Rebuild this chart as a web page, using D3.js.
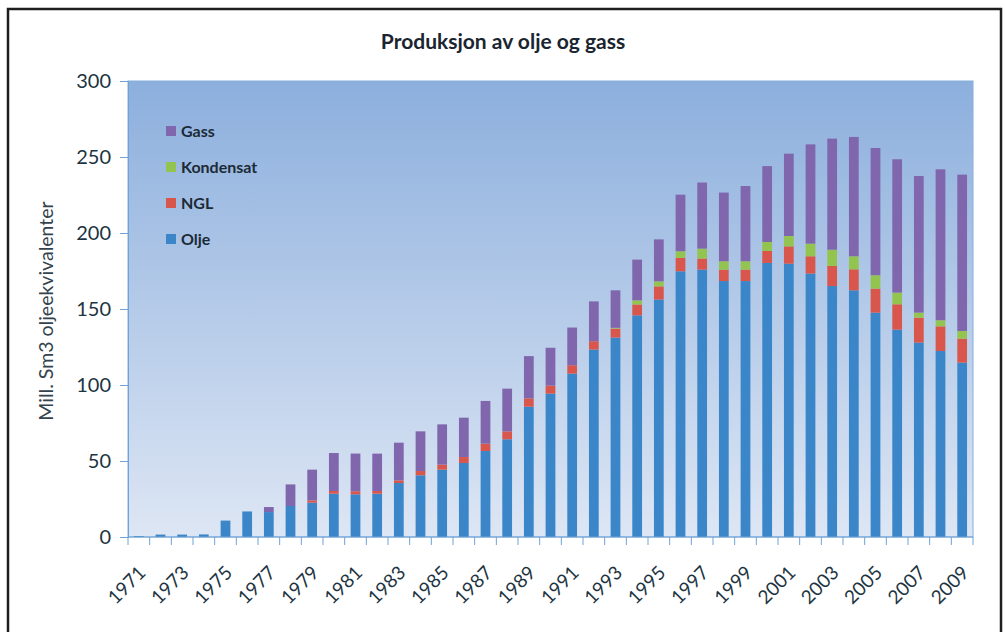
<!DOCTYPE html>
<html>
<head>
<meta charset="utf-8">
<script src="https://cdn.jsdelivr.net/npm/d3@7"></script>
<style>
	body { margin: 0; background: #fff; }
	text { font-family: Lato, "Open Sans", sans-serif; }
</style>
</head>
<body>
<script>
var years = d3.range(1971, 2010);
var olje = [0.6, 1.6, 1.6, 1.7, 10.8, 16.8, 16.4, 20.4, 22.6, 28.5,
	28.1, 28.5, 35.5, 40.6, 44.3, 48.7, 56.6, 64.3, 85.7, 94.3,
	107.5, 123.3, 131.2, 145.8, 156.2, 174.8, 175.9, 168.4, 168.4, 180.3,
	179.8, 173.3, 165.1, 162.3, 147.6, 136.4, 127.9, 122.4, 114.7];
var ngl = [0, 0, 0, 0, 0, 0, 0, 0, 1.5, 1.75,
	2, 1.75, 1.75, 2.8, 3.3, 3.9, 4.8, 5.2, 5.5, 5.3,
	5.5, 5.5, 5.9, 7.2, 8.7, 8.8, 7.3, 7.5, 7.5, 7.9,
	11.4, 11.4, 13.2, 13.8, 15.8, 16.7, 16.4, 16.2, 15.8];
var kondensat = [0, 0, 0, 0, 0, 0, 0, 0, 0, 0,
	0, 0, 0, 0, 0, 0, 0, 0, 0, 0,
	0, 0, 0.5, 2.7, 3.3, 4.4, 6.5, 5.5, 5.5, 5.9,
	6.8, 8.3, 10.7, 8.6, 8.8, 7.7, 3.3, 4.0, 5.0];
var gass = [0, 0, 0, 0, 0, 0, 3.3, 14.2, 20.2, 25,
	24.8, 24.6, 24.8, 26.1, 26.5, 25.9, 28.1, 28.1, 27.8, 24.9,
	24.8, 26.2, 24.7, 26.8, 27.6, 37.2, 43.5, 45.2, 49.5, 49.9,
	54.2, 65.3, 73.1, 78.5, 83.7, 87.7, 89.9, 99.3, 102.9];
var yTicks = [0, 50, 100, 150, 200, 250, 300];

var series = [
	{key: 'Olje', values: olje, color: '#3a86c8'},
	{key: 'NGL', values: ngl, color: '#d9564c'},
	{key: 'Kondensat', values: kondensat, color: '#94c450'},
	{key: 'Gass', values: gass, color: '#7f66ad'}
];

var width = 1005, height = 632;
var plot = {left: 128, right: 973, top: 81, bottom: 537};

var rows = years.map(function(y, i) {
	var r = {year: y};
	series.forEach(function(s) { r[s.key] = s.values[i]; });
	return r;
});
var stacked = d3.stack().keys(series.map(function(s) { return s.key; }))(rows);

var x = d3.scaleBand()
	.domain(years)
	.range([plot.left, plot.right])
	.paddingInner(0.55)
	.paddingOuter(0.275);
var y = d3.scaleLinear()
	.domain([0, 300])
	.range([plot.bottom, plot.top]);

var svg = d3.select('body').append('svg')
	.attr('width', width)
	.attr('height', height);

var defs = svg.append('defs');
var grad = defs.append('linearGradient')
	.attr('id', 'bg')
	.attr('x1', 0).attr('y1', 0).attr('x2', 0).attr('y2', 1);
grad.append('stop').attr('offset', '0%').attr('stop-color', '#8cafdd');
grad.append('stop').attr('offset', '100%').attr('stop-color', '#dde6f4');

// outer frame
svg.append('rect')
	.attr('x', 8).attr('y', 9)
	.attr('width', 993).attr('height', 640)
	.attr('fill', '#fff')
	.attr('stroke', '#1e1e1e')
	.attr('stroke-width', 2.5);

svg.append('text')
	.attr('x', 503).attr('y', 49)
	.attr('text-anchor', 'middle')
	.attr('font-size', 21)
	.attr('font-weight', 'bold')
	.attr('fill', '#1a2530')
	.text('Produksjon av olje og gass');

// plot area
svg.append('rect')
	.attr('x', plot.left).attr('y', plot.top)
	.attr('width', plot.right - plot.left)
	.attr('height', plot.bottom - plot.top)
	.attr('fill', 'url(#bg)')
	.attr('stroke', '#86afdc')
	.attr('stroke-width', 1);

svg.append('g')
	.selectAll('g')
	.data(stacked)
	.enter().append('g')
		.attr('fill', function(d, i) { return series[i].color; })
	.selectAll('rect')
	.data(function(d) { return d; })
	.enter().append('rect')
		.attr('x', function(d) { return x(d.data.year); })
		.attr('width', x.bandwidth())
		.attr('y', function(d) { return y(d[1]); })
		.attr('height', function(d) { return y(d[0]) - y(d[1]); });

// y axis
var yAxis = d3.axisLeft(y).tickValues(yTicks).tickSize(8).tickPadding(9);
var gy = svg.append('g')
	.attr('transform', 'translate(' + plot.left + ',0)')
	.call(yAxis);
gy.select('.domain').attr('stroke', '#6fa3d6');
gy.selectAll('.tick line').attr('stroke', '#6fa3d6');
gy.selectAll('.tick text')
	.attr('font-size', 20)
	.attr('font-family', 'Lato, sans-serif')
	.attr('fill', '#1d3442');

// x axis: ticks on band boundaries, labels on odd years
var gx = svg.append('g')
	.attr('transform', 'translate(0,' + plot.bottom + ')');
gx.append('line')
	.attr('x1', plot.left).attr('x2', plot.right)
	.attr('stroke', '#6fa3d6');
gx.selectAll('.tk')
	.data(years.concat([2010]))
	.enter().append('line')
		.attr('class', 'tk')
		.attr('x1', function(d) { return d < 2010 ? x(d) - x.step() * x.paddingInner() / 2 : plot.right; })
		.attr('x2', function(d) { return d < 2010 ? x(d) - x.step() * x.paddingInner() / 2 : plot.right; })
		.attr('y1', 0).attr('y2', 8)
		.attr('stroke', '#6fa3d6');
gx.selectAll('.lbl')
	.data(years.filter(function(d) { return d % 2 === 1; }))
	.enter().append('text')
		.attr('class', 'lbl')
		.attr('text-anchor', 'end')
		.attr('font-size', 19)
		.attr('fill', '#1d3442')
		.attr('transform', function(d) {
			return 'translate(' + (x(d) + x.bandwidth() / 2 + 8) + ',37) rotate(-45)';
		})
		.text(function(d) { return d; });

svg.append('text')
	.attr('transform', 'translate(53,' + ((plot.top + plot.bottom) / 2 + 2) + ') rotate(-90)')
	.attr('text-anchor', 'middle')
	.attr('font-size', 19.5)
	.attr('fill', '#33434e')
	.text('Mill. Sm3 oljeekvivalenter');

// legend
var legend = svg.append('g')
	.selectAll('g')
	.data(series.slice().reverse())
	.enter().append('g')
		.attr('transform', function(d, i) { return 'translate(166,' + (131 + i * 36) + ')'; });
legend.append('rect')
	.attr('x', 0).attr('y', -5)
	.attr('width', 10).attr('height', 10)
	.attr('fill', function(d) { return d.color; });
legend.append('text')
	.attr('x', 15).attr('y', 5.5)
	.attr('font-size', 16)
	.attr('font-weight', 'bold')
	.attr('fill', '#1b2a36')
	.text(function(d) { return d.key; });
</script>
</body>
</html>
